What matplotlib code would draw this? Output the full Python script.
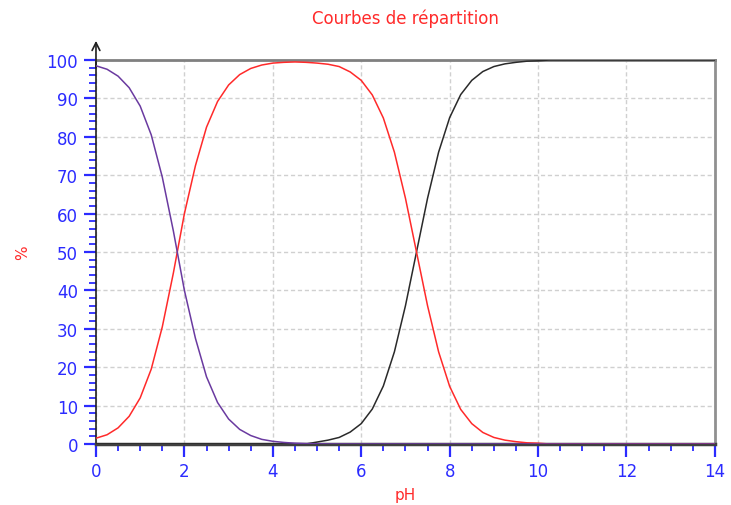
import numpy as np
import matplotlib.pyplot as plt
from matplotlib.ticker import MultipleLocator

# pH grid used for the distribution readings (step 0.25)
ph = np.arange(0, 14.01, 0.25)

# H2A fraction (%)
h2a = [98.5, 97.6, 95.8, 92.8, 88.0, 80.5, 69.5, 55.5, 40.0, 27.5,
       17.5, 10.8, 6.5, 3.8, 2.2, 1.2, 0.7, 0.4, 0.2, 0.1,
       0.05] + [0.0] * 36

# HA- fraction (%)
ha = [1.5, 2.4, 4.2, 7.2, 12.0, 19.5, 30.5, 44.5, 60.0, 72.5,
      82.5, 89.2, 93.5, 96.2, 97.8, 98.7, 99.2, 99.4, 99.5, 99.4,
      99.2, 98.9, 98.3, 96.9, 94.7, 90.9, 84.9, 76.0, 64.0, 50.0,
      36.0, 24.0, 15.0, 9.0, 5.3, 3.0, 1.7, 1.0, 0.6, 0.3,
      0.2] + [0.0] * 16

# A2- fraction (%)
a2 = [0.0] * 20 + [0.5, 1.0, 1.7, 3.1, 5.3, 9.1, 15.1, 24.0, 36.0, 50.0,
                   64.0, 76.0, 85.0, 91.0, 94.7, 97.0, 98.3, 99.0, 99.4, 99.7,
                   99.8] + [100.0] * 16

blue = '#2b2bff'
red = '#ff2a2a'

fig = plt.figure(figsize=(7.31, 5.06), dpi=100)
ax = fig.add_axes([0.1313, 0.1206, 0.8467, 0.7588])

ax.plot(ph, a2, color='#2a2a2a', lw=1.1, zorder=3)
ax.plot(ph, ha, color=red, lw=1.1, zorder=4)
ax.plot(ph, h2a, color='#6a3aa0', lw=1.1, zorder=5)

ax.set_xlim(0, 14)
ax.set_ylim(0, 100)
ax.xaxis.set_major_locator(MultipleLocator(2))
ax.xaxis.set_minor_locator(MultipleLocator(0.5))
ax.yaxis.set_major_locator(MultipleLocator(10))
ax.yaxis.set_minor_locator(MultipleLocator(2))

ax.grid(True, which='major', color='#d0d0d0', ls=(0, (3, 2)), lw=1)
ax.tick_params(which='major', direction='out', length=9, width=1.6,
               color=blue, labelcolor=blue, labelsize=12, pad=4)
ax.tick_params(which='minor', direction='out', length=5, width=1.3, color=blue)

ax.spines['left'].set_color('#202020')
ax.spines['left'].set_linewidth(1.2)
ax.spines['bottom'].set_color('#404040')
ax.spines['bottom'].set_linewidth(2.5)
ax.spines['top'].set_color('#808080')
ax.spines['top'].set_linewidth(2)
ax.spines['top'].set_linestyle((0, (2, 1)))
ax.spines['right'].set_color('#909090')
ax.spines['right'].set_linewidth(2)

# arrow on top of the y axis
ax.annotate('', xy=(0, 1.05), xytext=(0, 0.98), xycoords='axes fraction',
            arrowprops=dict(arrowstyle='->', color='#202020', lw=1.2,
                            mutation_scale=14, shrinkA=0, shrinkB=0))

ax.set_title('Courbes de répartition', color=red, fontsize=12, pad=27)
ax.set_xlabel('pH', color=red, fontsize=11, labelpad=5)
ax.set_ylabel('%', color=red, fontsize=11, labelpad=12)

fig.savefig('out.png', dpi=100)
